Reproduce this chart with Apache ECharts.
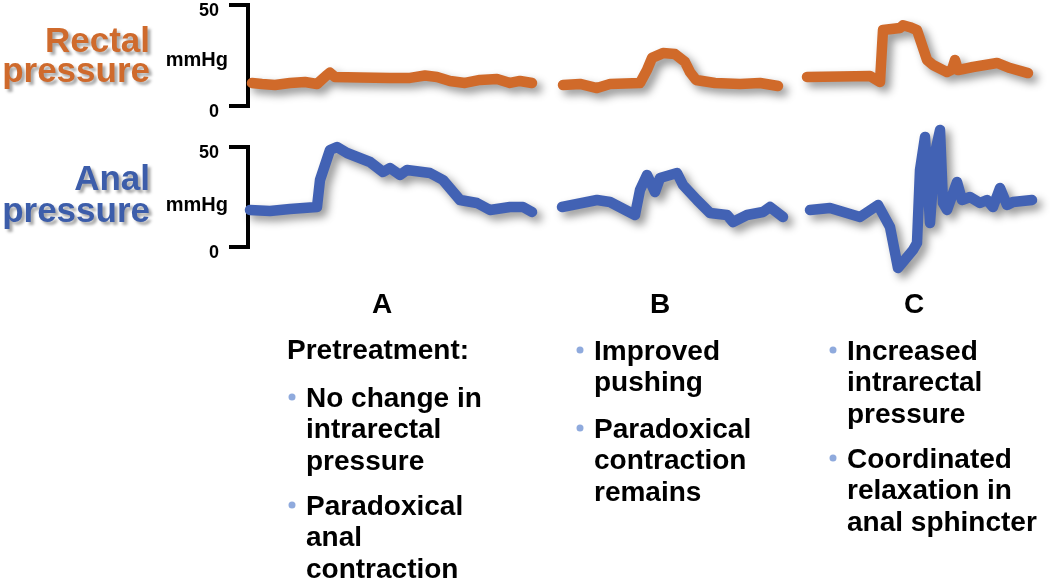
<!DOCTYPE html>
<html>
<head>
<meta charset="utf-8">
<script src="https://cdn.jsdelivr.net/npm/echarts@6/dist/echarts.min.js"></script>
<style>
html,body{margin:0;padding:0;background:#fff;}
#chart{width:1050px;height:581px;}
</style>
</head>
<body>
<div id="chart"></div>
<script>
// ---- Data (time in arbitrary units, pressure in mmHg) ----
var segmentLabels = ['A', 'B', 'C'];
var yTicks = [0, 50];

var rectalA_t = [4,14,27,42,57,69,78,82,87,112,142,162,177,189,202,217,232,249,262,272,284];
var rectalA_v = [11.4,10.9,10.4,11.4,11.9,10.9,14.9,16.5,14.4,14.1,13.9,13.9,15.1,14.4,12.4,11.4,12.9,13.4,11.4,12.4,11.4];

var rectalB_t = [315,332,349,362,392,399,404,415,427,437,442,448,467,492,512,530];
var rectalB_v = [10.4,10.9,8.9,10.9,11.4,17.8,23.8,26.2,25.7,21.8,16.8,12.9,11.4,10.9,11.4,9.9];

var rectalC_t = [559,592,622,632,635,652,655,662,669,679,685,699,704,707,710,725,749,762,780];
var rectalC_v = [14.4,14.6,14.9,11.9,37.6,38.6,40,39,37.6,22.8,20.3,16.8,18,22.8,17.8,19.3,21.3,18.8,16.3];

var analA_t = [2,22,42,69,72,82,89,99,122,135,142,152,159,182,195,212,229,242,262,275,284];
var analA_v = [18.5,18,19,20,33.5,48.5,50,47,42.5,37.5,39.5,36,38.5,37,33.5,23.5,22,18.5,20,20,17.5];

var analB_t = [314,349,362,387,392,399,407,412,429,435,449,462,479,485,499,515,522,535];
var analB_v = [20,23.5,22.5,16,28.5,36,27.5,34.5,37,31,23.5,17,16,12.5,16,17.5,20,15];

var analC_t = [562,582,612,630,642,650,665,669,672,677,682,687,692,695,699,709,714,722,732,739,745,752,759,765,784];
var analC_v = [18.5,19.5,15,21,10,-10.5,-1.5,2,38.5,55,12,47,58.5,22,18.5,32.5,23.5,25,22,23.5,20,29.5,21,22.5,23.5];

var notesA_head = 'Pretreatment:';
var notesA = ['No change in\nintrarectal\npressure', 'Paradoxical\nanal\ncontraction'];
var notesB = ['Improved\npushing', 'Paradoxical\ncontraction\nremains'];
var notesC = ['Increased\nintrarectal\npressure', 'Coordinated\nrelaxation in\nanal sphincter'];

// ---- Build ----
var ORANGE = '#D06A2A';
var BLUE = '#4262B4';

function pairs(t, v) { return t.map(function (x, i) { return [x, v[i]]; }); }

function traceSeries(t, v, color, idx) {
  return {
    type: 'line', xAxisIndex: idx, yAxisIndex: idx,
    data: pairs(t, v), showSymbol: false, symbol: 'none', clip: false,
    lineStyle: { color: color, width: 10.5, cap: 'round', join: 'round',
      shadowColor: 'rgba(0,0,0,0.42)', shadowBlur: 8, shadowOffsetX: 5, shadowOffsetY: 5 }
  };
}

function yAx(idx) {
  return {
    gridIndex: idx, type: 'value', min: yTicks[0], max: yTicks[1], interval: 50,
    axisLine: { show: true, lineStyle: { color: '#000', width: 4, cap: 'square' } },
    axisTick: { show: true, length: 19, lineStyle: { color: '#000', width: 4 } },
    axisLabel: { color: '#000', fontSize: 18, fontWeight: 'bold', fontFamily: 'Liberation Sans, Arial',
      margin: 29, verticalAlign: 'top', lineHeight: 12 },
    splitLine: { show: false }
  };
}
function xAx(idx) {
  return { gridIndex: idx, type: 'value', min: 0, max: 802, show: false };
}

var FONT = 'Liberation Sans, Arial, sans-serif';
var LH = 31.5;
var graphics = [];
function txt(x, y, s, opt) {
  var st = Object.assign({ text: s, x: x, y: y, font: 'bold 28px ' + FONT, fill: '#000',
    align: 'left', verticalAlign: 'top', lineHeight: LH }, opt || {});
  graphics.push({ type: 'text', style: st, silent: true });
}
function para(x, yCenter, s) { txt(x, yCenter - LH / 2, s); }
function bullet(x, y) {
  graphics.push({ type: 'circle', shape: { cx: x, cy: y, r: 3.5 }, style: { fill: '#8FAADD' }, silent: true });
}

var shadow = { textShadowColor: 'rgba(0,0,0,0.35)', textShadowBlur: 3, textShadowOffsetX: 3, textShadowOffsetY: 3 };
function bigLabel(y, s, color) {
  txt(150, y, s, Object.assign({ font: 'bold 35px ' + FONT, fill: color, align: 'right', verticalAlign: 'middle', lineHeight: 35 }, shadow));
}
bigLabel(42, 'Rectal', '#CF6A2C');
bigLabel(72, 'pressure', '#CF6A2C');
bigLabel(180, 'Anal', '#3C5DAA');
bigLabel(212, 'pressure', '#3C5DAA');
txt(228, 60, 'mmHg', { font: 'bold 20px ' + FONT, align: 'right', verticalAlign: 'middle', lineHeight: 20 });
txt(228, 205, 'mmHg', { font: 'bold 20px ' + FONT, align: 'right', verticalAlign: 'middle', lineHeight: 20 });

var letterX = [382, 660, 914];
segmentLabels.forEach(function (L, i) {
  txt(letterX[i], 305, L, { align: 'center', verticalAlign: 'middle', lineHeight: 30 });
});

// column A
para(287, 351, notesA_head);
bullet(292, 397); para(306, 399, notesA[0]);
bullet(292, 505); para(306, 507, notesA[1]);
// column B
bullet(580, 350); para(594, 352, notesB[0]);
bullet(580, 428); para(594, 430, notesB[1]);
// column C
bullet(833, 350); para(847, 352, notesC[0]);
bullet(833, 458); para(847, 460, notesC[1]);

var option = {
  animation: false,
  backgroundColor: '#fff',
  grid: [
    { left: 248, top: 5, width: 802, height: 101 },
    { left: 248, top: 147, width: 802, height: 100 }
  ],
  xAxis: [xAx(0), xAx(1)],
  yAxis: [yAx(0), yAx(1)],
  series: [
    traceSeries(rectalA_t, rectalA_v, ORANGE, 0),
    traceSeries(rectalB_t, rectalB_v, ORANGE, 0),
    traceSeries(rectalC_t, rectalC_v, ORANGE, 0),
    traceSeries(analA_t, analA_v, BLUE, 1),
    traceSeries(analB_t, analB_v, BLUE, 1),
    traceSeries(analC_t, analC_v, BLUE, 1)
  ],
  graphic: graphics
};

var chart = echarts.init(document.getElementById('chart'), null, { renderer: 'canvas' });
chart.setOption(option);
</script>
</body>
</html>
